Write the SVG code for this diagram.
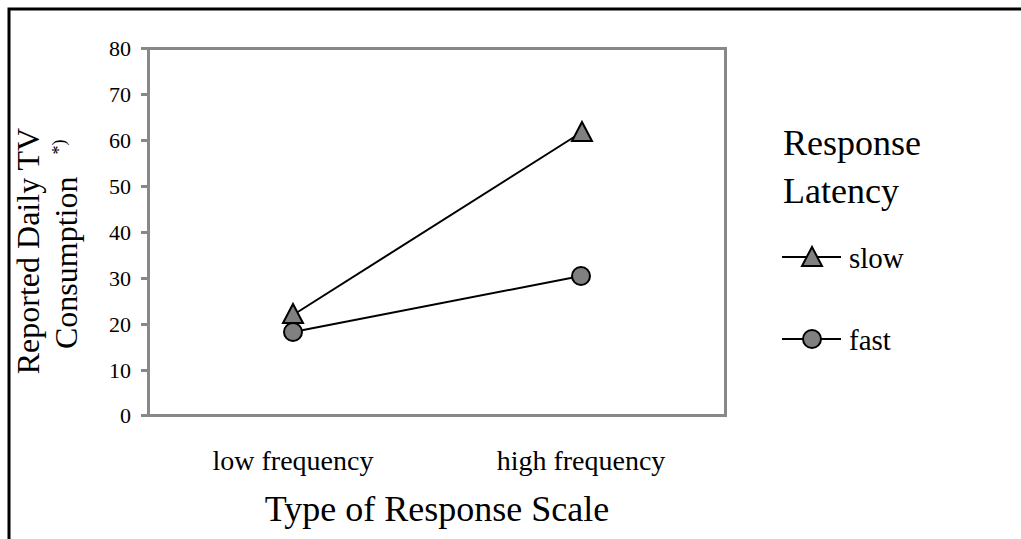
<svg xmlns="http://www.w3.org/2000/svg" width="1021" height="539" viewBox="0 0 1021 539">
<style>
text{font-family:"Liberation Serif","Times New Roman",serif;fill:#000}
.tick{font-size:22px;text-anchor:end}
.cat{font-size:28px;text-anchor:middle}
.big{font-size:36px}
.leg{font-size:29px}
.ytitle{font-size:32px}
.axis{stroke:#888;stroke-width:3;fill:none}
.series{stroke:#000;stroke-width:2;fill:none}
.mk{fill:#808080;stroke:#000;stroke-width:2}
</style>
<defs>
<polygon id="tri" points="0,-10 10,9 -10,9" class="mk"/>
<circle id="dot" r="9" class="mk"/>
</defs>
<rect x="0" y="0" width="1021" height="539" fill="#fff"/>
<path d="M9,539 V9 H1021" stroke="#000" stroke-width="3" fill="none"/>
<g id="plot-frame">
<rect x="148.5" y="48.5" width="577" height="367" class="axis"/>
<path d="M141,48.5h7M141,94.5h7M141,140.5h7M141,186.5h7M141,232.5h7M141,278.5h7M141,324.5h7M141,370.5h7M141,415.5h7" class="axis"/>
</g>
<g id="y-ticks">
<text class="tick" x="131" y="56">80</text>
<text class="tick" x="131" y="102">70</text>
<text class="tick" x="131" y="148">60</text>
<text class="tick" x="131" y="194">50</text>
<text class="tick" x="131" y="240">40</text>
<text class="tick" x="131" y="286">30</text>
<text class="tick" x="131" y="332">20</text>
<text class="tick" x="131" y="378">10</text>
<text class="tick" x="131" y="423">0</text>
</g>
<g id="x-labels">
<text class="cat" x="293" y="470">low frequency</text>
<text class="cat" x="581" y="470">high frequency</text>
</g>
<g id="x-title"><text class="big" x="437" y="521" text-anchor="middle">Type of Response Scale</text></g>
<g id="y-title">
<text class="ytitle" transform="translate(39,251) rotate(-90)" text-anchor="middle">Reported Daily TV</text>
<text class="ytitle" transform="translate(77,349) rotate(-90)">Consumption<tspan font-size="18" dx="22" dy="-12">*)</tspan></text>
</g>
<g id="connectors">
<line x1="293" y1="315" x2="582" y2="132" class="series"/>
<line x1="293" y1="332" x2="581" y2="276" class="series"/>
</g>
<g id="slow-low"><use href="#tri" x="293" y="314"/></g>
<g id="slow-high"><use href="#tri" x="582" y="132"/></g>
<g id="fast-low"><use href="#dot" x="293" y="332"/></g>
<g id="fast-high"><use href="#dot" x="581" y="276"/></g>
<g id="legend">
<text class="big" x="783" y="155">Response</text>
<text class="big" x="783" y="203">Latency</text>
<line x1="782" y1="257" x2="841" y2="257" class="series"/>
<use href="#tri" x="812" y="257"/>
<text class="leg" x="849" y="268">slow</text>
<line x1="782" y1="339" x2="841" y2="339" class="series"/>
<use href="#dot" x="812" y="339"/>
<text class="leg" x="849" y="350">fast</text>
</g>
</svg>
